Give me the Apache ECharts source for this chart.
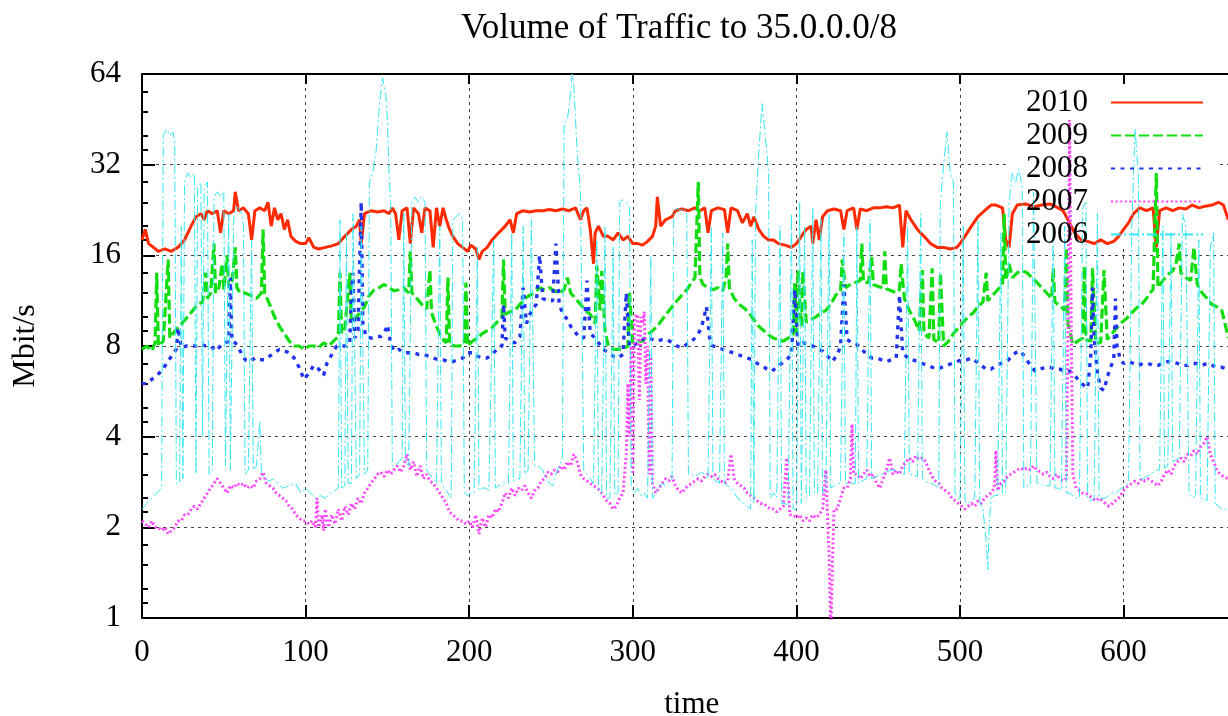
<!DOCTYPE html>
<html>
<head>
<meta charset="utf-8">
<script src="https://cdn.jsdelivr.net/npm/echarts@6/dist/echarts.min.js"></script>
<style>
  html, body { margin: 0; padding: 0; background: #fff; }
  #chart { width: 1228px; height: 716px; }
</style>
</head>
<body>
<div id="chart"></div>
<script>
// Traffic volume (Mbit/s) to 35.0.0.0/8, one trace per year, [time, Mbit/s]
const series2010 = [[0,18],[2,19.5],[4,17.5],[7,17],[10,16.5],[14,16.8],[18,16.5],[22,17],[26,18],[30,20],[33,21.5],[36,22],[38,21],[40,22.5],[43,22],[46,22.5],[48,19],[50,22.5],[53,22],[56,22.5],[57,26],[59,22.5],[62,23],[65,22],[67,18],[69,22.5],[72,23],[75,22.5],[77,24],[79,20],[81,23],[83,21],[85,22],[87,19.5],[89,21],[91,18.5],[94,17.8],[97,17.5],[100,17.5],[102,18.3],[105,17],[108,16.8],[112,17],[116,17.2],[120,17.5],[124,18.5],[128,19.5],[131,20],[133,21],[134,17.5],[136,22],[140,22.5],[144,22.3],[148,22.5],[151,22],[153,23],[155,22],[157,18],[159,22.5],[162,23],[164,17.5],[166,23],[169,22],[171,19],[173,23],[176,22.5],[178,17],[180,23],[182,20],[184,23],[186,21],[188,19.5],[190,18.5],[193,17.5],[196,17],[199,16.5],[201,17.3],[204,16.8],[206,15.5],[208,16.5],[211,17],[214,18],[218,19],[222,20],[225,21],[227,19],[229,22],[233,22.5],[237,22.3],[241,22.5],[245,22.5],[249,22.7],[253,22.5],[257,22.8],[261,22.5],[265,23],[268,21],[270,22.5],[272,23],[274,19.5],[276,15],[277,19],[279,20],[282,18.5],[285,18.5],[288,18],[291,19],[294,18],[297,18.5],[300,17.5],[303,17.5],[306,17.3],[309,17.8],[312,18.5],[314,20],[315,25],[317,20],[320,21],[324,21.5],[326,22.5],[330,22.8],[334,22.5],[338,23],[341,22.5],[344,23],[346,19],[348,22.5],[352,23],[356,22.7],[358,19],[360,23],[364,22.5],[367,20.5],[370,22],[372,20],[374,21.5],[377,19.5],[380,18.5],[383,18],[386,18],[389,17.5],[393,17.3],[397,17],[400,17.5],[403,18.5],[406,19.5],[409,20],[410,17.5],[412,21],[414,18],[416,21.5],[419,22.5],[423,22.8],[427,22.5],[429,19.5],[431,22.5],[435,23],[437,19.5],[439,22.8],[443,22.5],[447,23],[451,23],[455,23.2],[459,23],[463,23.5],[465,17],[467,22.5],[470,21],[474,19.5],[478,18.5],[482,17.5],[486,17],[490,17],[494,16.8],[498,17],[500,17.5],[503,18.5],[507,20],[511,21.5],[515,22.5],[519,23.5],[522,23.5],[526,23],[528,18],[530,17],[532,22],[535,23.5],[540,23.7],[545,23.2],[550,23.5],[555,23.7],[560,23],[563,22.5],[566,21],[570,19],[574,18],[578,17.8],[582,17.5],[586,18],[590,17.5],[594,17.8],[597,18.5],[600,19.5],[603,20.5],[606,22],[610,23],[614,22.5],[618,23],[620,17],[622,22.5],[626,23],[630,22.5],[634,23],[638,22.8],[642,23.5],[646,23],[650,23.3],[654,23.5],[658,24],[661,23.5],[664,21]];

const series2009 = [[0,7.8],[3,8],[6,7.7],[8,8.2],[9,14],[10,8],[13,8.3],[16,15.5],[17,8.5],[19,8.8],[22,9.2],[25,9.6],[28,10],[31,10.5],[34,11],[37,11.2],[39,14],[40,11.5],[42,12],[44,17.5],[45,12],[47,12.5],[49,15],[50,12.3],[52,16],[53,12.5],[55,13],[57,17],[58,12.5],[60,12],[63,12],[66,11.8],[70,11.5],[73,12],[74,19.5],[75,12],[78,11],[81,10],[84,9.3],[87,8.8],[90,8.3],[93,8],[96,8],[99,7.8],[102,8],[105,8],[108,7.9],[111,8.2],[114,8],[117,8.3],[120,8.6],[121,14],[122,8.8],[124,9.2],[127,14],[128,9.5],[130,9.8],[133,10.3],[136,10.8],[139,11.8],[142,12.3],[145,12.5],[148,12.8],[151,12.5],[154,12.2],[157,12.3],[160,12.5],[163,12],[164,16.5],[165,12],[168,11.5],[171,11],[174,10.6],[176,14.3],[177,10.3],[180,9.3],[183,8.5],[186,8.2],[187,13.5],[188,8.1],[191,8],[194,8],[197,8.1],[198,13],[199,8],[202,8.3],[205,8.5],[208,8.8],[211,9],[214,9.2],[217,9.6],[220,10],[221,15.5],[222,10.2],[225,10.4],[228,10.5],[231,11],[234,11.5],[237,11.8],[240,12],[243,12.5],[246,12.3],[249,12.5],[252,12.2],[255,12],[258,12.3],[260,13.5],[262,12],[265,11.5],[268,11],[271,10.5],[274,10.2],[277,9.5],[278,14.8],[280,10.5],[281,14.2],[283,9],[285,8],[288,7.8],[291,7.8],[294,7.8],[297,8],[298,12],[300,8.2],[303,8.3],[306,8.3],[309,8.7],[312,9],[315,9.3],[318,9.8],[321,10.3],[324,10.8],[327,11.3],[330,11.8],[333,12.3],[336,13],[338,13.5],[340,28],[341,13.5],[343,12.8],[346,12.5],[349,12.3],[352,12.5],[355,12.2],[357,13.5],[358,17.5],[359,12.5],[362,11.5],[365,11],[368,10.7],[371,10.3],[374,9.8],[377,9.3],[380,9],[383,8.7],[386,8.5],[389,8.4],[392,8.3],[395,8.5],[398,8.7],[399,13],[400,8.8],[401,14.3],[403,9.3],[404,14.2],[406,9.6],[409,9.8],[412,10],[415,10.3],[418,10.5],[421,11],[424,11.8],[427,12.2],[428,15.5],[430,12.5],[433,12.8],[436,13],[439,13.2],[440,17.5],[441,13],[444,13],[446,15.8],[447,12.8],[450,12.6],[453,12.5],[454,16.5],[455,12.4],[458,12.2],[461,12],[463,12.3],[464,15],[466,11.5],[469,10.5],[472,9.8],[475,9],[477,14.3],[478,8.8],[481,8.5],[483,14.5],[484,8.4],[487,8.2],[488,14],[490,8],[493,8.3],[496,8.8],[499,9.2],[502,9.6],[505,10],[508,10.3],[511,10.8],[514,11.2],[516,14],[517,11.3],[520,11.8],[523,12.3],[526,12.8],[527,22],[528,13.2],[530,15],[532,13.5],[535,14],[538,14.2],[541,14],[544,13.5],[547,13],[550,12.5],[553,12],[556,11.5],[557,14.5],[558,11.2],[561,10.9],[564,10.5],[565,17],[566,9.5],[569,8.1],[572,8.3],[575,8.5],[576,14.7],[577,8.4],[580,8.3],[581,14.5],[583,8.2],[586,8.2],[588,14.3],[590,8.4],[593,8.8],[596,9.2],[599,9.6],[602,9.9],[605,10.3],[608,10.7],[611,11],[614,11.5],[616,12],[618,12.3],[620,30],[621,12.5],[624,13.2],[627,13.8],[630,14.2],[632,15],[634,17.5],[635,14],[638,13.5],[641,13.2],[643,17],[645,12.8],[648,12],[651,11.5],[654,11],[657,10.8],[660,10.5],[663,9],[664,8.5]];

const series2008 = [[0,6],[3,6],[6,6.2],[9,6.4],[12,6.6],[15,7],[18,7.4],[21,7.8],[22,9.2],[24,7.9],[27,8],[30,8],[33,8],[36,8.1],[39,8],[42,8],[45,7.7],[48,8],[51,8.2],[53,8.3],[54,13.5],[55,8.3],[57,8.2],[60,7.7],[63,7.2],[66,7.1],[69,7.3],[72,7.2],[75,7.2],[78,7.4],[81,7.6],[84,7.8],[87,7.7],[90,7.6],[93,7.3],[96,6.8],[99,6.2],[102,6.5],[105,6.9],[108,6.7],[111,6.4],[113,7],[116,7.5],[119,8],[122,8],[125,8],[127,8.2],[128,12],[129,14],[130,8.5],[132,9],[134,24],[135,9.5],[137,8.6],[140,8.5],[143,8.6],[146,8.6],[148,8.8],[150,9.4],[152,8.2],[154,7.7],[157,7.8],[160,7.6],[163,7.6],[166,7.6],[169,7.5],[172,7.5],[175,7.4],[178,7.3],[181,7.2],[184,7.2],[187,7.1],[190,7.1],[193,7.2],[196,7.3],[199,7.6],[202,7.6],[205,7.4],[208,7.3],[211,7.3],[214,7.5],[217,7.8],[220,8],[221,11],[222,8.5],[225,8.3],[228,8.2],[231,8.6],[233,12.5],[235,9.5],[238,10.5],[241,11],[243,16],[245,11.5],[248,11.3],[251,11.3],[253,17.5],[255,11],[257,10.3],[260,9.8],[262,9.3],[264,9],[267,8.6],[270,8.5],[272,13.2],[274,8.8],[276,8.6],[279,8.2],[282,7.8],[285,7.6],[288,7.4],[291,7.3],[294,7.5],[296,12],[298,8],[300,8],[303,8.2],[306,8.4],[309,8.6],[312,8.4],[315,8.3],[318,8.4],[321,8.4],[324,8.2],[327,8],[330,7.9],[333,8.1],[336,8.3],[339,8.6],[342,9.2],[345,10.8],[347,8.5],[349,8],[352,7.9],[355,7.8],[358,7.7],[361,7.6],[364,7.5],[367,7.4],[370,7.3],[373,7.2],[376,7],[379,6.9],[382,6.7],[385,6.6],[388,6.8],[391,7],[394,7.2],[397,7.5],[399,12.3],[401,8],[404,8.2],[407,8.1],[410,8],[413,7.8],[416,7.7],[419,7.4],[422,7.1],[425,7.5],[427,8],[429,12.8],[431,8.4],[434,8.2],[437,8.1],[440,7.8],[443,7.5],[446,7.3],[449,7.3],[452,7.2],[455,7.1],[458,7.2],[461,7.3],[463,11.8],[465,7.6],[468,7.3],[471,7.2],[474,7.1],[477,7],[480,6.9],[483,6.8],[486,6.7],[489,6.8],[492,6.9],[495,7],[498,7.1],[501,7.2],[504,7.2],[507,7.3],[510,7.1],[513,6.9],[516,6.7],[519,6.7],[522,6.9],[525,7],[528,7.1],[531,7.3],[534,7.6],[537,7.7],[540,7.3],[543,6.9],[546,6.6],[549,6.7],[552,6.8],[555,6.8],[558,6.7],[561,6.7],[564,6.6],[567,6.6],[570,6.4],[573,6.1],[576,5.9],[578,5.8],[580,7.5],[581,12.5],[582,8.5],[584,6.5],[586,5.8],[588,5.7],[590,6.3],[592,6.8],[594,7.2],[595,11.5],[596,8],[598,7.2],[600,7],[603,7.1],[606,7],[609,6.9],[612,7],[615,7],[618,6.9],[621,6.9],[624,7],[627,7.1],[630,7.1],[633,7],[636,6.9],[639,6.9],[642,7],[645,7],[648,6.9],[651,7],[654,6.9],[657,6.8],[660,6.8],[664,6.7]];

const series2007 = [[0,2.1],[2,2.05],[4,2],[6,2.1],[8,2],[10,2],[12,1.95],[14,2],[16,1.9],[18,1.95],[20,2],[22,2.1],[24,2.1],[26,2.2],[28,2.2],[30,2.3],[32,2.35],[34,2.3],[36,2.4],[38,2.5],[40,2.6],[42,2.7],[44,2.8],[46,2.9],[48,2.8],[50,2.7],[52,2.6],[54,2.75],[56,2.7],[58,2.8],[60,2.75],[62,2.8],[64,2.7],[66,2.75],[68,2.7],[70,2.85],[72,2.9],[74,3.05],[76,2.8],[78,2.75],[80,2.7],[82,2.6],[84,2.55],[86,2.5],[88,2.45],[90,2.35],[92,2.3],[94,2.2],[96,2.15],[98,2.1],[100,2.1],[102,2.05],[104,2.1],[106,2],[107,2.5],[108,2],[110,2.2],[111,1.95],[112,2.3],[114,2],[116,2.2],[118,2.05],[120,2.3],[122,2.1],[124,2.35],[126,2.2],[128,2.4],[130,2.3],[132,2.5],[134,2.4],[136,2.6],[138,2.7],[140,2.8],[142,2.9],[144,3],[146,3.05],[148,2.95],[150,3.1],[152,3],[154,3.1],[156,3.2],[158,3.05],[160,3.2],[162,3.5],[164,3.1],[166,3.3],[168,2.95],[170,3.2],[172,2.9],[174,3],[176,2.85],[178,2.8],[180,2.7],[182,2.6],[184,2.5],[186,2.4],[188,2.25],[190,2.2],[192,2.15],[194,2.1],[196,2.1],[198,2.05],[200,2.1],[202,2],[204,2.2],[206,1.9],[208,2.15],[210,2],[212,2.2],[214,2.15],[216,2.3],[218,2.25],[220,2.4],[222,2.6],[224,2.5],[226,2.7],[228,2.55],[230,2.7],[232,2.65],[234,2.75],[236,2.6],[238,2.5],[240,2.65],[242,2.7],[244,2.85],[246,2.9],[248,3.05],[250,3],[252,3.1],[254,3.05],[256,3.2],[258,3.1],[260,3.3],[262,3.2],[264,3.5],[266,3.3],[268,3],[270,2.9],[272,2.85],[274,2.8],[276,2.75],[278,2.7],[280,2.65],[282,2.55],[284,2.45],[286,2.4],[288,2.3],[290,2.35],[292,2.5],[294,2.6],[296,3.5],[297,6],[298,4],[299,8],[300,3],[301,9.5],[302,10.2],[303,10],[304,5.3],[305,10],[306,9.5],[307,10.4],[308,6],[309,8],[310,3],[311,7.5],[312,2.8],[314,2.6],[316,2.7],[318,2.8],[320,2.9],[322,2.85],[324,2.95],[326,2.75],[328,2.65],[330,2.6],[332,2.7],[334,2.75],[336,2.8],[338,2.85],[340,2.9],[342,2.85],[344,2.95],[346,3],[348,2.95],[350,3],[352,2.9],[354,2.85],[356,2.8],[358,2.85],[360,3.5],[362,2.9],[364,2.8],[366,2.75],[368,2.7],[370,2.6],[372,2.55],[374,2.5],[376,2.45],[378,2.4],[380,2.4],[382,2.35],[384,2.3],[386,2.3],[388,2.25],[390,2.3],[392,2.35],[394,3.4],[396,2.2],[398,2.2],[400,2.15],[402,2.2],[404,2.1],[406,2.15],[408,2.1],[410,2.2],[412,2.15],[414,2.2],[416,2.3],[418,3.1],[419,2.2],[420,1.6],[421,0.85],[422,1.5],[423,2.3],[425,2.3],[427,2.5],[429,2.7],[431,2.7],[433,2.9],[434,4.4],[435,3],[437,3],[439,2.9],[441,3],[443,3.1],[445,2.95],[447,3],[449,2.8],[451,2.7],[453,2.9],[455,3.1],[457,3.4],[459,3],[461,3.1],[463,3],[465,3.2],[467,3.3],[469,3.4],[471,3.3],[473,3.45],[475,3.35],[477,3.4],[479,3.3],[481,3.1],[483,2.95],[485,2.85],[487,2.8],[489,2.7],[491,2.65],[493,2.6],[495,2.5],[497,2.45],[499,2.4],[501,2.35],[503,2.3],[505,2.35],[507,2.4],[509,2.35],[511,2.45],[513,2.4],[515,2.5],[517,2.55],[519,2.6],[521,2.7],[522,3.6],[523,2.65],[525,2.8],[527,2.85],[529,2.95],[531,3],[533,3.05],[535,3.1],[537,3.15],[539,3.1],[541,3.15],[543,3.1],[545,3.2],[547,3.1],[549,3.05],[551,3],[553,3.05],[555,2.95],[557,2.9],[559,3],[561,2.9],[563,2.85],[565,2.9],[566,9],[567,45],[568,9],[569,3],[571,2.7],[573,2.65],[575,2.6],[577,2.6],[579,2.55],[581,2.5],[583,2.45],[585,2.5],[587,2.45],[589,2.4],[591,2.35],[593,2.4],[595,2.45],[597,2.5],[599,2.6],[601,2.7],[603,2.75],[605,2.8],[607,2.85],[609,2.8],[611,2.9],[613,2.85],[615,2.9],[617,2.85],[619,2.8],[621,2.75],[623,2.85],[625,3],[627,3.1],[629,3],[631,3.2],[633,3.3],[635,3.4],[637,3.3],[639,3.5],[641,3.45],[643,3.6],[645,3.5],[647,3.7],[649,3.8],[651,4],[653,3.5],[655,3.3],[657,3.1],[659,3],[661,2.95],[664,2.9]];

const series2006 = [[0,2.3],[3,2.4],[6,2.5],[9,2.6],[12,2.7],[13,40],[15,42],[17,40],[19,41],[20,38],[21,2.8],[23,2.8],[24,20],[25,2.9],[26,28],[28,30],[30,29],[32,30],[33,3],[34,27],[36,28],[37,4],[38,27],[40,28],[41,3],[43,3.1],[44,25],[46,26],[48,25],[50,26],[51,3.2],[53,22],[54,3.1],[56,21],[57,23],[59,23],[61,22],[62,20],[63,3],[65,3.1],[67,18],[68,3.1],[70,3.2],[72,4.5],[73,3],[75,2.9],[78,2.85],[80,2.9],[83,2.8],[86,2.7],[90,2.75],[94,2.8],[97,2.6],[100,2.7],[103,2.6],[106,2.5],[109,2.55],[112,2.5],[115,2.6],[118,2.65],[120,2.7],[121,21],[122,2.7],[124,2.75],[125,19],[126,2.8],[128,2.8],[129,22],[131,2.9],[133,3],[134,20],[136,3],[138,3.1],[139,28],[141,30],[143,35],[145,50],[147,62],[149,55],[150,45],[151,30],[152,24],[153,3.2],[155,3.2],[157,3.3],[159,3.4],[160,22],[161,3.3],[163,3.2],[165,24],[167,25],[169,24],[171,25],[173,24],[174,3.1],[176,3],[178,2.9],[180,2.8],[182,20],[183,2.8],[185,2.7],[187,2.6],[189,2.5],[190,21],[192,21.5],[194,22],[196,21],[197,2.6],[199,2.55],[201,2.6],[203,2.6],[205,17],[206,2.65],[208,2.7],[210,2.7],[212,2.65],[215,18],[216,2.7],[218,2.75],[221,2.8],[224,2.8],[226,19],[227,2.85],[229,2.9],[231,2.9],[233,20],[234,3],[236,3.1],[238,21],[240,3.2],[242,3.2],[245,3.1],[247,2.9],[249,2.8],[251,2.75],[253,3],[255,3.2],[257,3.4],[258,44],[260,45],[262,55],[263,64],[264,58],[266,35],[268,26],[270,3.1],[272,3],[274,2.9],[276,2.8],[278,18],[279,2.7],[281,2.6],[283,20],[284,2.5],[286,2.5],[288,17],[289,2.55],[291,2.6],[292,24],[294,24.5],[296,24],[298,23],[299,2.7],[301,2.6],[303,2.7],[305,2.55],[307,2.6],[309,2.5],[311,16],[312,2.5],[314,2.6],[316,2.7],[318,2.8],[320,2.75],[322,2.85],[324,2.9],[325,22],[327,23],[329,22.5],[331,23],[333,22],[334,3],[336,3],[338,2.95],[340,3],[342,3.05],[344,3],[346,2.9],[348,20],[349,2.9],[351,2.85],[353,2.8],[355,19],[356,2.8],[358,2.75],[360,2.7],[362,2.6],[364,2.5],[366,2.45],[368,2.4],[370,2.35],[372,2.3],[373,18],[374,2.4],[375,22],[377,35],[379,51],[381,40],[383,30],[384,2.5],[386,2.6],[388,2.5],[390,20],[391,2.4],[393,2.4],[395,2.35],[397,22],[398,2.3],[400,2.3],[402,24],[403,2.4],[405,20],[406,2.5],[408,2.55],[410,23],[411,2.6],[413,2.6],[415,21],[416,2.6],[418,2.65],[420,22],[421,2.7],[423,2.75],[425,2.8],[427,2.8],[429,19],[430,2.8],[433,2.8],[436,2.8],[437,20],[438,2.8],[440,2.85],[443,2.9],[445,21],[446,2.9],[449,2.95],[452,3],[455,3.05],[458,3.1],[460,3.1],[463,3.05],[466,3],[468,20],[469,3],[471,3],[474,2.95],[476,22],[477,2.9],[479,2.85],[481,2.8],[483,2.8],[485,2.75],[487,2.7],[488,24],[490,32],[492,41],[494,30],[496,28],[497,2.6],[499,2.5],[500,2.45],[502,20],[503,2.45],[505,2.4],[507,2.45],[509,2.5],[511,21],[512,2.45],[514,2.3],[516,1.8],[517,1.45],[518,2.1],[519,2.5],[521,2.55],[523,2.55],[525,19],[526,2.6],[528,2.6],[530,24],[532,30],[534,28],[536,31],[538,27],[539,2.7],[541,2.75],[543,2.75],[545,26],[547,2.8],[549,2.8],[551,2.75],[553,2.75],[555,2.75],[557,20],[558,2.7],[560,2.7],[562,2.65],[564,20],[565,2.6],[567,2.6],[569,2.55],[571,2.5],[573,2.5],[575,23],[577,24],[578,2.5],[580,2.45],[582,2.5],[584,22],[585,2.5],[587,2.5],[589,2.5],[591,2.55],[593,2.6],[595,2.6],[597,2.65],[599,2.7],[601,2.75],[603,2.8],[605,20],[607,42],[609,30],[610,2.9],[612,2.9],[614,2.95],[616,3],[618,3.05],[620,3.1],[622,3.1],[624,20],[625,3.15],[627,3.2],[629,19],[630,3.3],[632,3.35],[634,3.4],[636,22],[638,20],[640,2.6],[642,2.5],[644,2.55],[646,18],[647,2.5],[649,2.5],[651,2.45],[653,17],[655,19],[656,2.4],[658,2.35],[660,2.3],[662,2.3],[664,2.25]];

// Axis tick values
const yTicks = [1, 2, 4, 8, 16, 32, 64];
const yMinorTicks = [1.125, 1.25, 1.5, 1.75, 2.25, 2.5, 3, 3.5, 4.5, 5, 6, 7, 9, 10, 12, 14, 18, 20, 24, 28, 36, 40, 48, 56];
const xStep = 100;
const xMax = 672;

const FONT = '"Liberation Serif", "DejaVu Serif", serif';

const chart = echarts.init(document.getElementById('chart'), null, { renderer: 'canvas' });

const gridLine = { show: true, lineStyle: { color: '#444', width: 1, type: [3, 4] } };
const border = { show: true, lineStyle: { color: '#000', width: 2 } };

function line(name, data, color, width, dash) {
  return {
    name: name,
    type: 'line',
    data: data,
    xAxisIndex: 0,
    yAxisIndex: 0,
    symbol: 'none',
    showSymbol: false,
    animation: false,
    lineStyle: { color: color, width: width, type: dash },
    itemStyle: { color: color },
    emphasis: { disabled: true }
  };
}

chart.setOption({
  backgroundColor: '#fff',
  animation: false,
  title: {
    text: 'Volume of Traffic to 35.0.0.0/8',
    left: 456,
    top: 6,
    textStyle: { fontFamily: FONT, fontSize: 35, fontWeight: 'normal', color: '#000' }
  },
  grid: { left: 142, top: 74, height: 544, width: 1099.4, outerBoundsMode: 'none', containLabel: false },
  legend: {
    orient: 'vertical',
    left: 1021,
    top: 81,
    align: 'right',
    itemWidth: 92,
    itemHeight: 1,
    itemGap: 0,
    selectedMode: false,
    itemStyle: { opacity: 0 },
    data: ['2010', '2009', '2008', '2007', '2006'],
    textStyle: { fontFamily: FONT, fontSize: 31, color: '#000', lineHeight: 33, padding: [0, 18, 0, 0] }
  },
  graphic: [{
    type: 'rect',
    z: 1,
    shape: { x: 1008, y: 84, width: 208, height: 162 },
    style: { fill: '#fff' },
    silent: true
  }],
  xAxis: [{
    type: 'value',
    position: 'bottom',
    min: 0,
    max: xMax,
    interval: xStep,
    name: 'time',
    nameLocation: 'middle',
    nameGap: 71,
    nameTextStyle: { fontFamily: FONT, fontSize: 31, color: '#000' },
    axisLine: border,
    axisTick: { show: true, inside: true, length: 13, lineStyle: { color: '#000', width: 2 } },
    axisLabel: { fontFamily: FONT, fontSize: 31, color: '#000', margin: 19, showMaxLabel: false },
    splitLine: gridLine
  }, {
    type: 'value',
    position: 'top',
    min: 0,
    max: xMax,
    interval: xStep,
    axisLine: border,
    axisTick: { show: true, inside: true, length: 10, lineStyle: { color: '#000', width: 2 } },
    axisLabel: { show: false },
    splitLine: { show: false }
  }],
  yAxis: [{
    type: 'log',
    logBase: 2,
    min: 1,
    max: 64,
    position: 'left',
    name: 'Mbit/s',
    nameLocation: 'middle',
    nameGap: 100,
    nameRotate: 90,
    nameTextStyle: { fontFamily: FONT, fontSize: 32, color: '#000' },
    axisLine: border,
    axisTick: { show: true, inside: true, length: 13, customValues: yTicks, lineStyle: { color: '#000', width: 2 } },
    axisLabel: { fontFamily: FONT, fontSize: 31, color: '#000', margin: 21, customValues: yTicks },
    splitLine: gridLine
  }, {
    type: 'log',
    logBase: 2,
    min: 1,
    max: 64,
    position: 'left',
    axisLine: { show: false },
    axisTick: { show: true, inside: true, length: 6, customValues: yMinorTicks, lineStyle: { color: '#000', width: 2 } },
    axisLabel: { show: false },
    splitLine: { show: false }
  }],
  series: [
    line('2010', series2010, '#ff2a00', 3, 'solid'),
    line('2009', series2009, '#11dd11', 3.2, [10, 4]),
    line('2008', series2008, '#2233ee', 3.4, [4, 5.5]),
    line('2007', series2007, '#ff44ff', 3, [2, 2.6]),
    line('2006', series2006, '#33e6f0', 1, [10, 3, 2, 3])
  ]
});
</script>
</body>
</html>
